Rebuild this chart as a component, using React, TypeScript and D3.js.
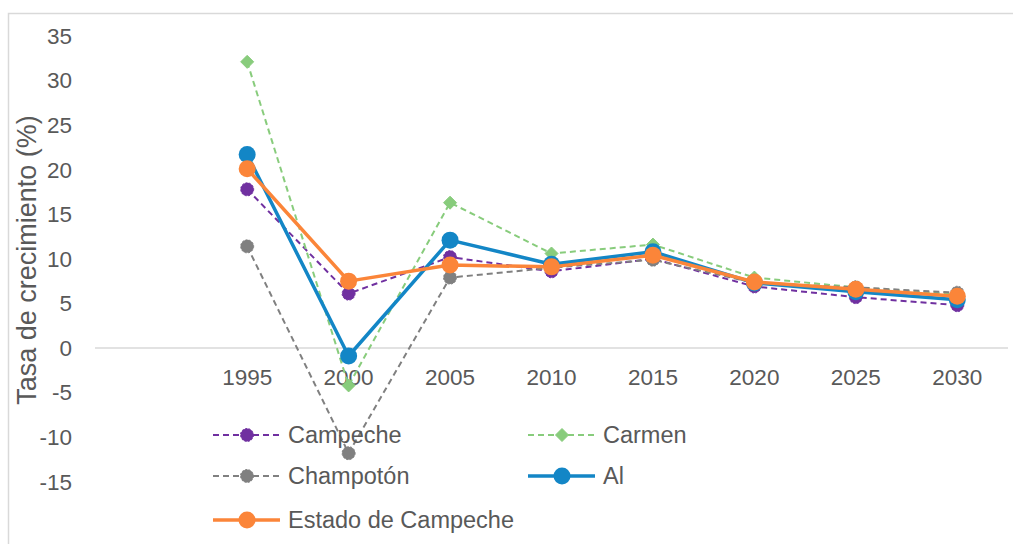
import { useRef, useEffect } from "react";
import * as d3 from "d3";

const years = ["", "1995", "2000", "2005", "2010", "2015", "2020", "2025", "2030"];
const campeche = [17.8, 6.1, 10.2, 8.6, 10.0, 6.9, 5.7, 4.8];
const carmen = [32.1, -4.2, 16.3, 10.6, 11.6, 7.9, 6.8, 6.0];
const champoton = [11.4, -11.8, 7.9, 9.0, 9.9, 7.3, 6.8, 6.2];
const al = [21.7, -0.9, 12.1, 9.4, 10.8, 7.3, 6.3, 5.4];
const estado = [20.1, 7.5, 9.3, 9.1, 10.4, 7.4, 6.6, 5.8];
const yTicks = [-15, -10, -5, 0, 5, 10, 15, 20, 25, 30, 35];

const series = [
  { name: "Campeche", values: campeche, color: "#7030a0", dash: "6,4", width: 2, shape: "circle", r: 6.5 },
  { name: "Carmen", values: carmen, color: "#88cc7c", dash: "6,4", width: 2, shape: "diamond", r: 6.5 },
  { name: "Champotón", values: champoton, color: "#808080", dash: "6,4", width: 2, shape: "circle", r: 6.5 },
  { name: "Al", values: al, color: "#1386c6", dash: null, width: 3.5, shape: "circle", r: 8.5 },
  { name: "Estado de Campeche", values: estado, color: "#fb8539", dash: null, width: 3.5, shape: "circle", r: 8.5 },
];

export default function App() {
  const svgRef = useRef<SVGSVGElement>(null);

  useEffect(() => {
    const svg = d3.select(svgRef.current);
    svg.selectAll("*").remove();
    const font = "'Liberation Sans', Arial, sans-serif";

    const x = d3.scaleBand().domain(years).range([95, 1008]);
    const y = d3.scaleLinear().domain([-15, 35]).range([481.7, 36]);

    svg.append("rect").attr("x", 0).attr("y", 0).attr("width", 1013).attr("height", 544).attr("fill", "#fff");
    // outer border (cut by the picture on right/bottom)
    svg.append("path").attr("d", "M8.5,560 V13.5 H1030").attr("fill", "none").attr("stroke", "#d9d9d9").attr("stroke-width", 1.5);

    // zero line
    svg.append("line").attr("x1", 95).attr("x2", 1008).attr("y1", y(0)).attr("y2", y(0))
      .attr("stroke", "#d9d9d9").attr("stroke-width", 1.5);

    // y tick labels
    svg.append("g").selectAll("text").data(yTicks).enter().append("text")
      .attr("x", 72).attr("y", d => y(d)).attr("dy", "0.35em").attr("text-anchor", "end")
      .style("font-family", font).style("font-size", "22.5px").style("fill", "#595959")
      .text(d => d);

    // x tick labels
    svg.append("g").selectAll("text").data(years.slice(1)).enter().append("text")
      .attr("x", d => x(d)! + x.bandwidth() / 2).attr("y", 377).attr("dy", "0.35em").attr("text-anchor", "middle")
      .style("font-family", font).style("font-size", "22.5px").style("fill", "#595959")
      .text(d => d);

    // y title
    svg.append("text").attr("transform", "translate(27,260) rotate(-90)").attr("dy", "0.35em")
      .attr("text-anchor", "middle")
      .style("font-family", font).style("font-size", "27px").style("fill", "#595959")
      .text("Tasa de crecimiento (%)");

    const cx = (i: number) => x(years[i + 1])! + x.bandwidth() / 2;
    const line = d3.line<number>().x((_, i) => cx(i)).y(d => y(d));

    const drawMarker = (g: any, s: any, px: number, py: number) => {
      if (s.shape === "diamond") {
        const r = s.r;
        g.append("path").attr("d", `M${px},${py - r}L${px + r},${py}L${px},${py + r}L${px - r},${py}Z`)
          .attr("fill", s.color).attr("stroke", s.color).attr("stroke-width", 1).attr("stroke-linejoin", "round");
      } else {
        g.append("circle").attr("cx", px).attr("cy", py).attr("r", s.r).attr("fill", s.color)
          .attr("stroke", s.dash ? s.color : "none").attr("stroke-width", 1)
          .attr("stroke-dasharray", s.dash ? "2,1.5" : null);
      }
    };

    series.forEach(s => {
      const g = svg.append("g");
      g.append("path").attr("d", line(s.values)!).attr("fill", "none").attr("stroke", s.color)
        .attr("stroke-width", s.width).attr("stroke-dasharray", s.dash).attr("stroke-linejoin", "round");
      s.values.forEach((v, i) => drawMarker(g, s, cx(i), y(v)));
    });

    // legend
    const legendPos = [
      [213, 435], [528, 435], [213, 476], [528, 476], [213, 520],
    ];
    series.forEach((s, i) => {
      const [lx, ly] = legendPos[i];
      const g = svg.append("g");
      g.append("line").attr("x1", lx).attr("x2", lx + 67).attr("y1", ly).attr("y2", ly)
        .attr("stroke", s.color).attr("stroke-width", s.width).attr("stroke-dasharray", s.dash);
      drawMarker(g, s, lx + 34, ly);
      g.append("text").attr("x", lx + 75).attr("y", ly).attr("dy", "0.35em")
        .style("font-family", font).style("font-size", "23.5px").style("fill", "#595959")
        .text(s.name);
    });
  }, []);

  return (
    <div style={{ position: "absolute", left: 0, top: 0 }}>
      <svg ref={svgRef} width={1013} height={544} style={{ display: "block" }} />
    </div>
  );
}
